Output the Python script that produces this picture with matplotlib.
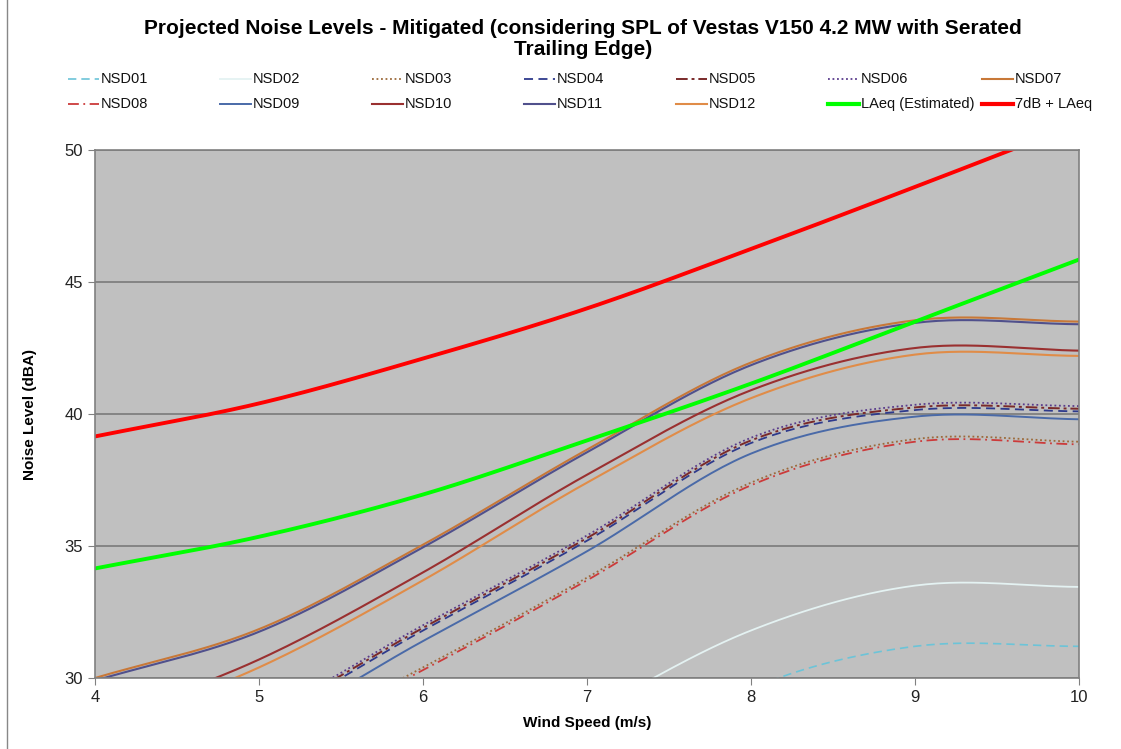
import matplotlib.pyplot as plt
from matplotlib.lines import Line2D
import numpy as np

plt.rcParams['font.family'] = ['Liberation Sans', 'DejaVu Sans']

# Wind speed (m/s) and projected levels (dBA)
wind = [4, 5, 6, 7, 8, 9, 10]

nsd01 = [18.0, 20.0, 22.5, 26.0, 29.6, 31.2, 31.2]
nsd02 = [20.0, 22.0, 25.0, 28.6, 31.8, 33.5, 33.45]
nsd03 = [25.6, 27.3, 30.4, 33.8, 37.4, 39.05, 38.95]
nsd04 = [26.7, 28.4, 31.8, 35.2, 38.9, 40.15, 40.1]
nsd05 = [26.8, 28.5, 31.9, 35.3, 39.0, 40.25, 40.2]
nsd06 = [26.9, 28.6, 32.0, 35.4, 39.1, 40.35, 40.3]
nsd07 = [30.0, 31.85, 35.05, 38.65, 41.95, 43.55, 43.5]
nsd08 = [25.5, 27.2, 30.3, 33.7, 37.3, 38.95, 38.85]
nsd09 = [26.3, 28.0, 31.4, 34.8, 38.5, 39.9, 39.8]
nsd10 = [28.3, 30.7, 34.0, 37.7, 40.9, 42.5, 42.4]
nsd11 = [29.9, 31.75, 34.95, 38.55, 41.85, 43.45, 43.4]
nsd12 = [28.0, 30.4, 33.7, 37.4, 40.6, 42.25, 42.2]
laeq = [34.15, 35.35, 36.95, 39.0, 41.15, 43.5, 45.85]
laeq_7db = [39.15, 40.4, 42.1, 44.0, 46.25, 48.6, 51.0]

labels = ['NSD01', 'NSD02', 'NSD03', 'NSD04', 'NSD05', 'NSD06', 'NSD07',
          'NSD08', 'NSD09', 'NSD10', 'NSD11', 'NSD12',
          'LAeq (Estimated)', '7dB + LAeq']
series = [nsd01, nsd02, nsd03, nsd04, nsd05, nsd06, nsd07,
          nsd08, nsd09, nsd10, nsd11, nsd12, laeq, laeq_7db]

colors = ['#6CC4D8', '#E4F2F2', '#9C6A3A', '#2E3A8C', '#7A2A2A', '#5A3C8C', '#C87838',
          '#CC3A3A', '#4A6AA8', '#9A3030', '#50508C', '#E08C48', '#00FF00', '#FF0000']
styles = [(0, (5, 3)), '-', (0, (1, 1.5)), (0, (5, 3)), (0, (6, 2, 1.5, 2)), (0, (1, 1.5)), '-',
          (0, (6, 2.5, 1, 2.5)), '-', '-', '-', '-', '-', '-']
widths = [1.2, 1.3, 1.3, 1.3, 1.4, 1.3, 1.5,
          1.3, 1.4, 1.5, 1.5, 1.5, 2.8, 2.8]


def smooth(x, y, n=30):
    # Excel-style smoothed line (Catmull-Rom bezier)
    x = np.asarray(x, float)
    y = np.asarray(y, float)
    px = np.concatenate([[2 * x[0] - x[1]], x, [2 * x[-1] - x[-2]]])
    py = np.concatenate([[2 * y[0] - y[1]], y, [2 * y[-1] - y[-2]]])
    xs, ys = [], []
    t = np.linspace(0, 1, n)
    for i in range(1, len(px) - 2):
        p0, p1, p2, p3 = (np.array([px[j], py[j]]) for j in range(i - 1, i + 3))
        c1 = p1 + (p2 - p0) / 6
        c2 = p2 - (p3 - p1) / 6
        b = ((1 - t) ** 3)[:, None] * p1 + (3 * (1 - t) ** 2 * t)[:, None] * c1 \
            + (3 * (1 - t) * t ** 2)[:, None] * c2 + (t ** 3)[:, None] * p2
        xs.extend(b[:, 0])
        ys.extend(b[:, 1])
    return xs, ys


fig = plt.figure(figsize=(11.21, 7.49), dpi=100)
ax = fig.add_axes([95 / 1121, 1 - 678 / 749, 984 / 1121, 528 / 749])
ax.set_facecolor('#C0C0C0')

for vals, c, ls, lw in zip(series, colors, styles, widths):
    sx, sy = smooth(wind, vals)
    ax.plot(sx, sy, color=c, linestyle=ls, linewidth=lw)

ax.set_xlim(4, 10)
ax.set_ylim(30, 50)
ax.set_xticks(range(4, 11))
ax.set_yticks(range(30, 51, 5))
ax.yaxis.grid(True, color='#7A7A7A', linewidth=1.2)
ax.set_axisbelow(True)
ax.tick_params(axis='both', labelsize=12, colors='#808080', labelcolor='#222222', length=5)
for s in ax.spines.values():
    s.set_color('#808080')
    s.set_linewidth(1.2)

ax.set_xlabel('Wind Speed (m/s)', fontsize=11, fontweight='bold', labelpad=8)
ax.set_ylabel('Noise Level (dBA)', fontsize=11, fontweight='bold', labelpad=20)

fig.text(0.52, 1 - 39 / 749,
         'Projected Noise Levels - Mitigated (considering SPL of Vestas V150 4.2 MW with Serated\nTrailing Edge)',
         ha='center', va='center', fontsize=15, fontweight='bold', linespacing=1.15)

# Legend laid out like the Excel original: 2 rows x 7 columns
text_x = [101, 253, 405, 557, 709, 861, 1015]
for i, lab in enumerate(labels):
    row, col = divmod(i, 7)
    yy = 1 - (79 + 25 * row) / 749
    tx = text_x[col]
    line = Line2D([(tx - 33) / 1121, (tx - 2) / 1121], [yy, yy], transform=fig.transFigure,
                  color=colors[i], linestyle=styles[i], linewidth=widths[i] if i < 12 else 3.0)
    fig.add_artist(line)
    fig.text(tx / 1121, yy, lab, ha='left', va='center', fontsize=10.5, color='#111111')

# chart-area border (only the left edge falls inside the picture)
fig.add_artist(Line2D([7 / 1121, 7 / 1121], [0, 1], transform=fig.transFigure,
                      color='#888888', linewidth=1))

fig.savefig('out.png', dpi=100)
